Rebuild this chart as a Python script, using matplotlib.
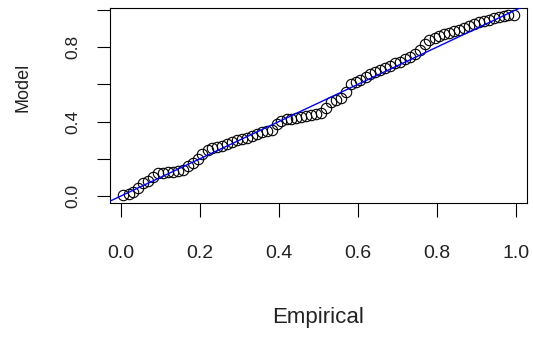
import matplotlib
matplotlib.use('Agg')
import matplotlib.pyplot as plt

# P-P plot data: empirical vs model probabilities
empirical = [0.006, 0.019, 0.031, 0.044, 0.056, 0.069, 0.081, 0.094, 0.106, 0.119,
             0.131, 0.144, 0.156, 0.169, 0.181, 0.194, 0.206, 0.219, 0.231, 0.244,
             0.256, 0.269, 0.281, 0.294, 0.306, 0.319, 0.331, 0.344, 0.356, 0.369,
             0.381, 0.394, 0.406, 0.419, 0.431, 0.444, 0.456, 0.469, 0.481, 0.494,
             0.506, 0.519, 0.531, 0.544, 0.556, 0.569, 0.581, 0.594, 0.606, 0.619,
             0.631, 0.644, 0.656, 0.669, 0.681, 0.694, 0.706, 0.719, 0.731, 0.744,
             0.756, 0.769, 0.781, 0.794, 0.806, 0.819, 0.831, 0.844, 0.856, 0.869,
             0.881, 0.894, 0.906, 0.919, 0.931, 0.944, 0.956, 0.969, 0.981, 0.994]
model = [0.004, 0.010, 0.020, 0.045, 0.068, 0.078, 0.100, 0.122, 0.124, 0.126,
         0.128, 0.132, 0.140, 0.160, 0.178, 0.200, 0.225, 0.246, 0.258, 0.264,
         0.270, 0.280, 0.290, 0.298, 0.305, 0.312, 0.320, 0.335, 0.345, 0.348,
         0.352, 0.385, 0.405, 0.412, 0.416, 0.420, 0.425, 0.430, 0.436, 0.440,
         0.448, 0.470, 0.505, 0.515, 0.525, 0.560, 0.600, 0.612, 0.625, 0.640,
         0.655, 0.668, 0.678, 0.688, 0.700, 0.712, 0.722, 0.735, 0.748, 0.762,
         0.785, 0.815, 0.840, 0.850, 0.860, 0.868, 0.878, 0.885, 0.892, 0.900,
         0.912, 0.925, 0.935, 0.942, 0.948, 0.955, 0.962, 0.966, 0.970, 0.975]

x_ticks = [0.0, 0.2, 0.4, 0.6, 0.8, 1.0]
x_labels = ['0.0', '0.2', '0.4', '0.6', '0.8', '1.0']
y_ticks = [0.0, 0.2, 0.4, 0.6, 0.8, 1.0]
y_labels = ['0.0', '', '0.4', '', '0.8', '']

plt.rcParams['font.family'] = ['Liberation Sans', 'DejaVu Sans']

fig = plt.figure(figsize=(5.33, 3.41), dpi=100)
ax = fig.add_axes([0.2064, 0.4047, 0.7824, 0.5718])

ax.plot(empirical, model, linestyle='none', marker='o', markersize=7.5,
        markerfacecolor='none', markeredgecolor='black', markeredgewidth=0.8)
ax.axline((0, 0), slope=1, color='blue', linewidth=1.0, zorder=3)

ax.set_xlim(-0.028, 1.028)
ax.set_ylim(-0.038, 1.01)

ax.set_xticks(x_ticks)
ax.set_xticklabels(x_labels, fontsize=14, color='#222222')
ax.set_yticks(y_ticks)
ax.set_yticklabels(y_labels, fontsize=12.5, color='#222222', rotation=90,
                   va='center')
ax.tick_params(axis='x', length=10, width=0.8, pad=20)
ax.tick_params(axis='y', length=9.5, width=0.8, pad=12)

for sp in ax.spines.values():
    sp.set_linewidth(0.8)

fig.text(0.597, 1 - 318 / 341, 'Empirical', ha='center', va='center',
         fontsize=16, color='#222222')
fig.text(23 / 533, 1 - 87 / 341, 'Model', ha='center', va='center',
         rotation=90, fontsize=13, color='#222222')

fig.savefig('out.png', dpi=100)
